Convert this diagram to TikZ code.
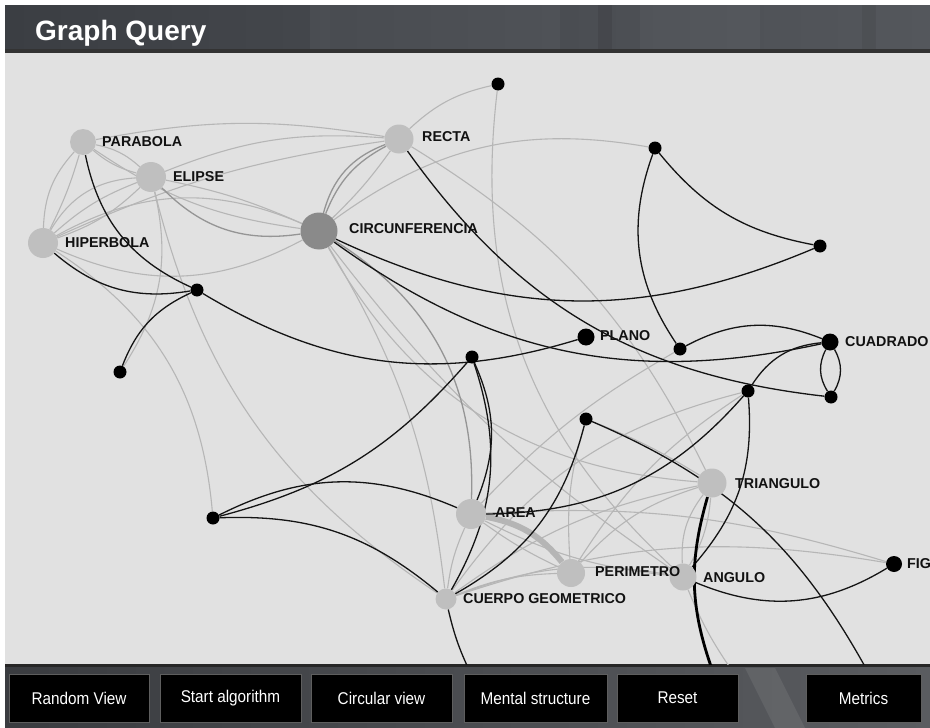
\documentclass[tikz,border=0pt]{standalone}
\usepackage{fontspec}
\setmainfont{Liberation Sans}
\newfontfamily\btnfont[FakeStretch=0.9]{Liberation Sans}
\usetikzlibrary{shapes.geometric}
\definecolor{bgc}{HTML}{E1E1E1}
\definecolor{ngray}{HTML}{BFBFBF}
\definecolor{cgray}{HTML}{8A8A8A}
\definecolor{egray}{HTML}{B6B6B6}
\definecolor{emid}{HTML}{959595}
\definecolor{hdrA}{HTML}{3B3E43}
\definecolor{hdrB}{HTML}{54575C}
\definecolor{ftrA}{HTML}{3A3C40}
\definecolor{ftrB}{HTML}{5A5C60}
\definecolor{btnborder}{HTML}{5E5E5E}
\definecolor{txt}{HTML}{111111}
\pgfdeclarelayer{bglayer}
\pgfdeclarelayer{edgelayer}
\pgfsetlayers{bglayer,edgelayer,main}
\tikzset{
  gn/.style={circle, fill=ngray, draw=none, inner sep=0pt},
  cn/.style={circle, fill=cgray, draw=none, inner sep=0pt},
  bn/.style={circle, fill=black, draw=none, inner sep=0pt, minimum size=13pt},
  lbl/.style={anchor=west, inner sep=0pt, text=txt, font=\fontsize{14.3}{16}\selectfont\bfseries},
  bk/.style={draw=black!92, line width=1.3pt},
  bkthick/.style={draw=black, line width=2.8pt},
  gl/.style={draw=egray, line width=1.1pt},
  gm/.style={draw=emid, line width=1.3pt},
  gthick/.style={draw=ngray!95!black, line width=6pt},
  btnbox/.style={fill=black, draw=btnborder, line width=0.8pt},
  btxt/.style={text=white, font=\btnfont\fontsize{17}{20}\selectfont},
}
\begin{document}
\begin{tikzpicture}[x=1pt, y=1pt]
\useasboundingbox (0,0) rectangle (930,-728);
% ---------- nodes ----------
\node[gn, minimum size=26pt] (P) at (83,-142) {};
\node[gn, minimum size=30pt] (E) at (151,-177) {};
\node[gn, minimum size=30pt] (H) at (43,-243) {};
\node[cn, minimum size=37pt] (C) at (319,-231) {};
\node[gn, minimum size=29pt] (R) at (399,-139) {};
\node[bn] (t1) at (498,-84) {};
\node[bn] (t2) at (655,-148) {};
\node[bn] (t3) at (820,-246) {};
\node[bn] (d1) at (197,-290) {};
\node[bn] (d2) at (120,-372) {};
\node[bn, minimum size=17pt] (PL) at (586,-337) {};
\node[bn] (t4) at (680,-349) {};
\node[bn, minimum size=17pt] (CU) at (830,-342) {};
\node[bn] (t5) at (831,-397) {};
\node[bn] (t6) at (748,-391) {};
\node[bn] (m1) at (472,-357) {};
\node[bn] (m2) at (586,-419) {};
\node[gn, minimum size=29pt] (TR) at (712,-483) {};
\node[bn] (d3) at (213,-518) {};
\node[gn, minimum size=30pt] (A) at (471,-514) {};
\node[gn, minimum size=28pt] (PE) at (571,-573) {};
\node[gn, minimum size=27pt] (AN) at (683,-577) {};
\node[gn, minimum size=21pt] (CG) at (446,-599) {};
\node[bn, minimum size=16pt] (FIG) at (894,-564) {};
\coordinate (b1) at (470,-672);
\coordinate (b2) at (713,-672);
\coordinate (b3) at (733,-672);
\coordinate (b4) at (868,-672);
% ---------- labels ----------
\node[lbl] (lP) at (102,-142) {PARABOLA};
\node[lbl] (lE) at (173,-177) {ELIPSE};
\node[lbl] (lH) at (65,-243) {HIPERBOLA};
\node[lbl] (lC) at (349,-229) {CIRCUNFERENCIA};
\node[lbl] (lR) at (422,-137) {RECTA};
\node[lbl] (lPL) at (600,-336) {PLANO};
\node[lbl] (lCU) at (845,-342) {CUADRADO};
\node[lbl] (lTR) at (735,-484) {TRIANGULO};
\node[lbl] (lA) at (495,-513) {AREA};
\node[lbl] (lPE) at (595,-572) {PERIMETRO};
\node[lbl] (lAN) at (703,-578) {ANGULO};
\node[lbl] (lCG) at (463,-599) {CUERPO GEOMETRICO};
\node[lbl] (lF) at (907,-564) {FIG};
% ---------- background ----------
\begin{pgfonlayer}{bglayer}
\fill[white] (0,0) rectangle (930,-728);
\fill[bgc] (5,-50) rectangle (930,-668);
\shade[left color=hdrA, right color=hdrB] (5,-5) rectangle (930,-50);
\fill[white, opacity=0.04] (310,-5) rectangle (330,-50);
\fill[white, opacity=0.03] (330,-5) rectangle (560,-50);
\fill[black, opacity=0.08] (598,-5) rectangle (612,-50);
\fill[white, opacity=0.03] (640,-5) rectangle (760,-50);
\fill[black, opacity=0.06] (862,-5) rectangle (876,-50);
\fill[black!80] (5,-49) rectangle (930,-53);
\shade[left color=ftrA, right color=ftrB] (5,-665) rectangle (930,-728);
\fill[white, opacity=0.08] (745,-668) -- (775,-668) -- (805,-728) -- (775,-728) -- cycle;
\fill[black!85] (5,-664) rectangle (930,-667);
\end{pgfonlayer}
% ---------- edges ----------
\begin{pgfonlayer}{edgelayer}
\begin{scope}
\clip (5,-53) rectangle (930,-664);
% light gray edges
\draw[gl] (P) to[bend left=15] (E);
\draw[gl] (P) to[bend right=12] (E);
\draw[gl] (P) to[bend right=20] (H);
\draw[gl] (P) to[bend left=5] (H);
\draw[gl] (E) to[bend left=12] (H);
\draw[gl] (E) to[bend right=10] (H);
\draw[gl] (E) to[bend right=28] (H);
\draw[gl] (P) to[bend right=13] (C);
\draw[gl] (E) to[bend left=6] (C);
\draw[gl] (H) to[bend right=26] (C);
\draw[gl] (H) to[bend left=26] (C);
\draw[gl] (H) to[bend left=8] (R);
\draw[gl] (E) to[bend left=13] (R);
\draw[gl] (P) to[bend left=10] (R);
\draw[gl] (R) to[bend left=5] (C);
\draw[gl] (C) to[bend left=23] (t2);
\draw[gl] (R) to[bend left=15] (t1);
\draw[gl] (R) to[bend left=16] (TR);
\draw[gl] (t1) to[bend right=27] (AN);
\draw[gl] (E) to[bend left=23] (d2);
\draw[gl] (E) to[bend right=21] (CG);
\draw[gl] (H) to[bend left=26] (d3);
\draw[gl] (C) to[bend right=28] (TR);
\draw[gl] (C) to[bend right=9] (AN);
\draw[gl] (C) to[bend left=12] (CG);
\draw[gl] (A) to[bend left=8] (t4);
\draw[gl] (CG) to[bend left=20] (t6);
\draw[gl] (PE) to[bend left=15] (TR);
\draw[gl] (PE) to[bend left=12] (t6);
\draw[gl] (A) to[bend right=10] (AN);
\draw[gl] (CG) to[bend left=15] (AN);
\draw[gl] (CG) to[bend left=12] (TR);
\draw[gl] (A) to[bend left=10] (FIG);
\draw[gl] (CG) to[bend left=14] (FIG);
\draw[gl] (m2) to[bend right=10] (PE);
\draw[gl] (m2) to[bend left=5] (TR);
\draw[gl] (AN) to[bend left=20] (TR);
\draw[gl] (AN) to[bend right=12] (TR);
\draw[gl] (AN) to[bend right=6] (b3);
\draw[gl] (A) to[bend right=5] (PE);
\draw[gl] (CG) to[bend left=10] (PE);
\draw[gl] (A) to[bend right=8] (CG);
% medium gray edges
\draw[gm] (E) to[bend right=27] (C);
\draw[gm] (R) to[bend right=27] (C);
\draw[gm] (R) to[bend right=20] (C);
\draw[gm] (C) to[bend left=30] (A);
\draw[gthick] (A) to[bend left=20] (PE);
% black edges
\draw[bk] (P) to[bend right=27] (d1);
\draw[bk] (d1) to[bend right=24] (PL);
\draw[bk] (H) to[bend right=25] (d1);
\draw[bk] (d1) to[bend right=22] (d2);
\draw[bk] (C) to[bend right=24] (t3);
\draw[bk] (C) to[bend right=24] (CU);
\draw[bk] (R) to[bend right=24] (t5);
\draw[bk] (t2) to[bend right=20] (t3);
\draw[bk] (t2) to[bend right=27] (t4);
\draw[bk] (t4) to[bend left=25] (CU);
\draw[bk] (CU) to[bend left=30] (t5);
\draw[bk] (CU) to[bend right=30] (t5);
\draw[bk] (CU) to[bend right=26] (t6);
\draw[bk] (t6) to[bend left=23] (AN);
\draw[bk] (t6) to[bend left=24] (A);
\draw[bk] (m2) to[bend left=19] (b4);
\draw[bk] (m2) to[bend left=23] (CG);
\draw[bk] (m1) to[bend left=17] (d3);
\draw[bk] (m1) to[bend left=23] (A);
\draw[bk] (m1) to[bend left=24] (CG);
\draw[bk] (d3) to[bend left=25] (A);
\draw[bk] (d3) to[bend left=21] (CG);
\draw[bk] (CG) to[bend right=6] (b1);
\draw[bk] (AN) to[bend right=27] (FIG);
\draw[bkthick] (TR) to[bend right=18] (b2);
\end{scope}
\end{pgfonlayer}
% ---------- header and buttons ----------
\node[anchor=base west, inner sep=0pt, text=white, font=\fontsize{28}{32}\selectfont\bfseries] (title) at (35,-40) {Graph Query};
\node[btnbox, minimum width=140pt, minimum height=48pt] (b_rv) at (79,-698) {};
\node[btnbox, minimum width=141pt, minimum height=48pt] (b_sa) at (230.5,-698) {};
\node[btnbox, minimum width=141pt, minimum height=48pt] (b_cv) at (381.5,-698) {};
\node[btnbox, minimum width=143pt, minimum height=48pt] (b_ms) at (535.5,-698) {};
\node[btnbox, minimum width=121pt, minimum height=48pt] (b_rs) at (677.5,-698) {};
\node[btnbox, minimum width=115pt, minimum height=48pt] (b_mt) at (863.5,-698) {};
\node[btxt] (t_rv) at (b_rv) {Random View};
\node[btxt] (t_sa) at (b_sa) {Start algorithm};
\node[btxt] (t_cv) at (b_cv) {Circular view};
\node[btxt] (t_ms) at (b_ms) {Mental structure};
\node[btxt] (t_rs) at (b_rs) {Reset};
\node[btxt] (t_mt) at (b_mt) {Metrics};
\end{tikzpicture}
\end{document}
